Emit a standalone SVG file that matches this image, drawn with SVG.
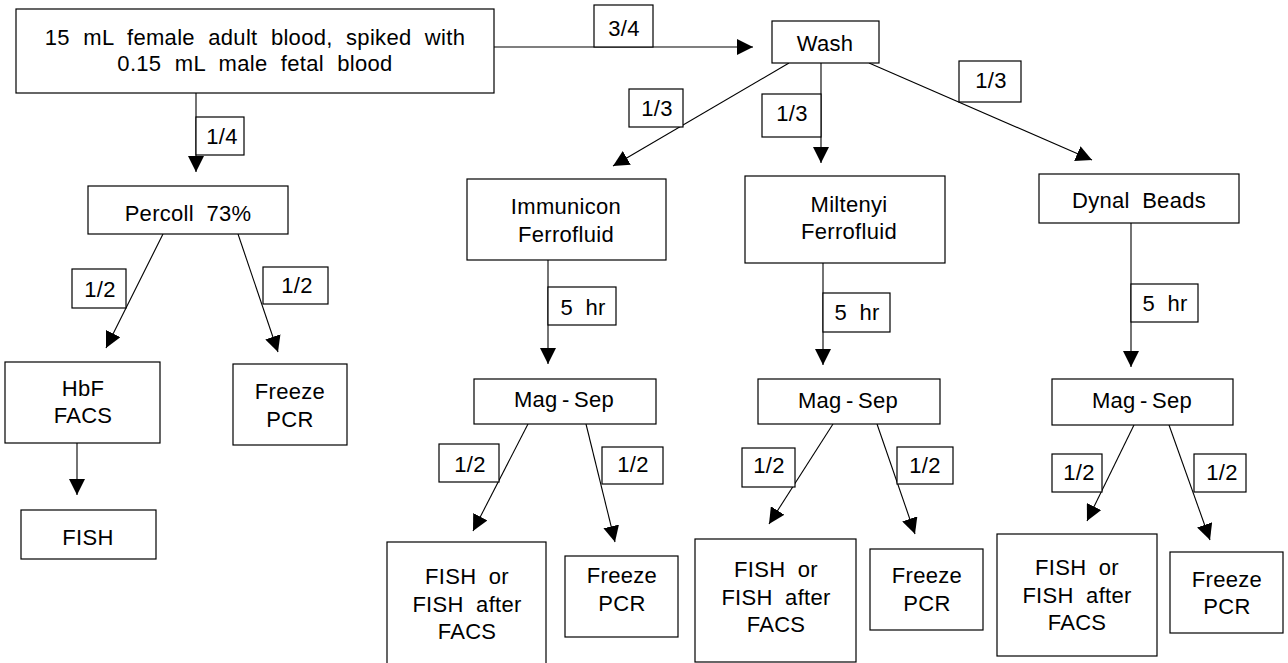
<svg xmlns="http://www.w3.org/2000/svg" width="1288" height="663" viewBox="0 0 1288 663">
<style>
  .box { fill: #ffffff; stroke: #000000; stroke-width: 1.2; }
  .lbl { fill: #ffffff; stroke: #000000; stroke-width: 1.2; }
  .t { font-family: "Liberation Sans", Arial, sans-serif; font-size: 22px; fill: #000000; text-anchor: middle; letter-spacing: 0.3px; word-spacing: 6px; }
  .ms { word-spacing: -2px; }
  .src { word-spacing: 7px; }
  .c { stroke: #000000; stroke-width: 1.1; fill: none; marker-end: url(#arrow); }
</style>
<defs>
  <marker id="arrow" markerUnits="userSpaceOnUse" markerWidth="16" markerHeight="16" viewBox="0 0 16 16" refX="16" refY="8" orient="auto">
    <path d="M0,0 L16,8 L0,16 Z" fill="#000000"/>
  </marker>
</defs>
<rect x="0" y="0" width="1288" height="663" fill="#ffffff"/>

<g id="connectors">
  <line class="c" x1="196" y1="93" x2="196" y2="172"/>
  <line class="c" x1="494" y1="47" x2="753" y2="47"/>
  <line class="c" x1="789" y1="63" x2="613" y2="166"/>
  <line class="c" x1="821" y1="61" x2="821" y2="163"/>
  <line class="c" x1="869" y1="63" x2="1092" y2="160"/>
  <line class="c" x1="163" y1="234" x2="106" y2="348"/>
  <line class="c" x1="238" y1="234" x2="278" y2="352"/>
  <line class="c" x1="77" y1="443" x2="77" y2="495"/>
  <line class="c" x1="548" y1="260" x2="548" y2="364"/>
  <line class="c" x1="823" y1="263" x2="823" y2="365"/>
  <line class="c" x1="1131" y1="223" x2="1131" y2="367"/>
  <line class="c" x1="528" y1="424" x2="473" y2="531"/>
  <line class="c" x1="586" y1="424" x2="615" y2="542"/>
  <line class="c" x1="833" y1="424" x2="769" y2="524"/>
  <line class="c" x1="877" y1="424" x2="915" y2="534"/>
  <line class="c" x1="1134" y1="425" x2="1087" y2="521"/>
  <line class="c" x1="1169" y1="425" x2="1210" y2="540"/>
</g>

<g id="n-source">
  <rect class="box" x="16" y="9" width="478" height="84"/>
  <text class="t src" x="255" y="45">15 mL female adult blood, spiked with</text>
  <text class="t src" x="255" y="71">0.15 mL male fetal blood</text>
</g>
<g id="n-wash">
  <rect class="box" x="772" y="21" width="107" height="42"/>
  <text class="t" x="825" y="51">Wash</text>
</g>
<g id="n-percoll">
  <rect class="box" x="88" y="186" width="200" height="48"/>
  <text class="t" x="188" y="221">Percoll 73%</text>
</g>
<g id="n-hbf">
  <rect class="box" x="5" y="362" width="155" height="81"/>
  <text class="t" x="83" y="396">HbF</text>
  <text class="t" x="83" y="423">FACS</text>
</g>
<g id="n-freeze1">
  <rect class="box" x="233" y="364" width="114" height="81"/>
  <text class="t" x="290" y="399">Freeze</text>
  <text class="t" x="290" y="427">PCR</text>
</g>
<g id="n-fish1">
  <rect class="box" x="21" y="510" width="135" height="49"/>
  <text class="t" x="88" y="545">FISH</text>
</g>
<g id="n-immunicon">
  <rect class="box" x="467" y="179" width="199" height="81"/>
  <text class="t" x="566" y="214">Immunicon</text>
  <text class="t" x="566" y="242">Ferrofluid</text>
</g>
<g id="n-miltenyi">
  <rect class="box" x="745" y="176" width="200" height="87"/>
  <text class="t" x="849" y="212">Miltenyi</text>
  <text class="t" x="849" y="239">Ferrofluid</text>
</g>
<g id="n-dynal">
  <rect class="box" x="1039" y="174" width="200" height="49"/>
  <text class="t" x="1139" y="208">Dynal Beads</text>
</g>
<g id="n-magsep1">
  <rect class="box" x="474" y="379" width="182" height="45"/>
  <text class="t ms" x="564" y="407">Mag - Sep</text>
</g>
<g id="n-magsep2">
  <rect class="box" x="758" y="379" width="182" height="45"/>
  <text class="t ms" x="848" y="408">Mag - Sep</text>
</g>
<g id="n-magsep3">
  <rect class="box" x="1052" y="379" width="181" height="46"/>
  <text class="t ms" x="1142" y="408">Mag - Sep</text>
</g>
<g id="n-fishor1">
  <rect class="box" x="387" y="542" width="159" height="130"/>
  <text class="t" x="467" y="584">FISH or</text>
  <text class="t" x="467" y="612">FISH after</text>
  <text class="t" x="467" y="639">FACS</text>
</g>
<g id="n-freeze2">
  <rect class="box" x="565" y="556" width="113" height="81"/>
  <text class="t" x="622" y="583">Freeze</text>
  <text class="t" x="622" y="611">PCR</text>
</g>
<g id="n-fishor2">
  <rect class="box" x="695" y="539" width="161" height="123"/>
  <text class="t" x="776" y="577">FISH or</text>
  <text class="t" x="776" y="605">FISH after</text>
  <text class="t" x="776" y="632">FACS</text>
</g>
<g id="n-freeze3">
  <rect class="box" x="870" y="549" width="113" height="81"/>
  <text class="t" x="927" y="583">Freeze</text>
  <text class="t" x="927" y="611">PCR</text>
</g>
<g id="n-fishor3">
  <rect class="box" x="997" y="534" width="160" height="122"/>
  <text class="t" x="1077" y="575">FISH or</text>
  <text class="t" x="1077" y="603">FISH after</text>
  <text class="t" x="1077" y="630">FACS</text>
</g>
<g id="n-freeze4">
  <rect class="box" x="1170" y="552" width="113" height="81"/>
  <text class="t" x="1227" y="587">Freeze</text>
  <text class="t" x="1227" y="614">PCR</text>
</g>

<g id="edge-labels">
  <g id="l-14"><rect class="lbl" x="196" y="117" width="48" height="38"/><text class="t" x="222" y="144">1/4</text></g>
  <g id="l-34"><rect class="lbl" x="594" y="5" width="59" height="42"/><text class="t" x="624" y="36">3/4</text></g>
  <g id="l-13a"><rect class="lbl" x="629" y="89" width="54" height="38"/><text class="t" x="657" y="116">1/3</text></g>
  <g id="l-13b"><rect class="lbl" x="762" y="94" width="59" height="43"/><text class="t" x="792" y="121">1/3</text></g>
  <g id="l-13c"><rect class="lbl" x="959" y="61" width="62" height="41"/><text class="t" x="991" y="88">1/3</text></g>
  <g id="l-12a"><rect class="lbl" x="72" y="269" width="54" height="39"/><text class="t" x="100" y="297">1/2</text></g>
  <g id="l-12b"><rect class="lbl" x="263" y="267" width="65" height="37"/><text class="t" x="297" y="293">1/2</text></g>
  <g id="l-5a"><rect class="lbl" x="548" y="287" width="68" height="38"/><text class="t" x="583" y="315">5 hr</text></g>
  <g id="l-5b"><rect class="lbl" x="823" y="293" width="67" height="39"/><text class="t" x="857" y="320">5 hr</text></g>
  <g id="l-5c"><rect class="lbl" x="1131" y="284" width="67" height="38"/><text class="t" x="1165" y="311">5 hr</text></g>
  <g id="l-12c"><rect class="lbl" x="439" y="444" width="60" height="38"/><text class="t" x="470" y="472">1/2</text></g>
  <g id="l-12d"><rect class="lbl" x="602" y="447" width="61" height="37"/><text class="t" x="633" y="472">1/2</text></g>
  <g id="l-12e"><rect class="lbl" x="742" y="448" width="53" height="39"/><text class="t" x="769" y="473">1/2</text></g>
  <g id="l-12f"><rect class="lbl" x="897" y="447" width="56" height="37"/><text class="t" x="925" y="473">1/2</text></g>
  <g id="l-12g"><rect class="lbl" x="1052" y="454" width="50" height="38"/><text class="t" x="1079" y="480">1/2</text></g>
  <g id="l-12h"><rect class="lbl" x="1194" y="454" width="52" height="38"/><text class="t" x="1222" y="480">1/2</text></g>
</g>
</svg>
